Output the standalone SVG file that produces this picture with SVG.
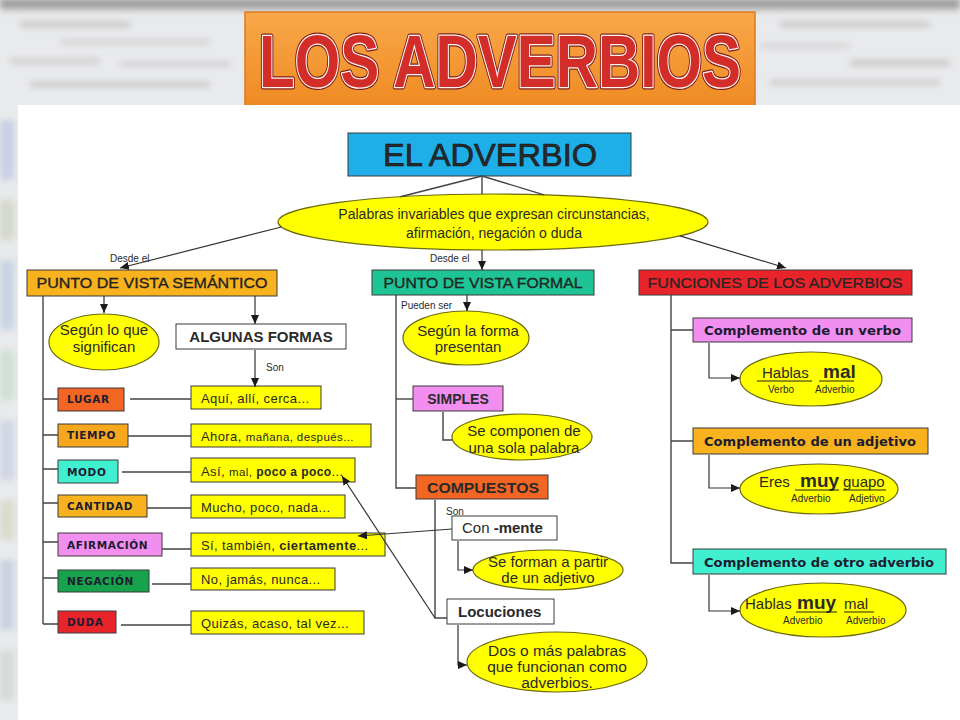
<svg xmlns="http://www.w3.org/2000/svg" width="960" height="720" viewBox="0 0 960 720">
<defs>
<linearGradient id="topband" x1="0" y1="0" x2="0" y2="1">
<stop offset="0" stop-color="#6e6e6e"/><stop offset="1" stop-color="#dcdcdc"/>
</linearGradient>
<linearGradient id="orange" x1="0" y1="0" x2="0" y2="1">
<stop offset="0" stop-color="#f8a84a"/><stop offset="1" stop-color="#ef8a22"/>
</linearGradient>
<filter id="blur" x="-10%" y="-10%" width="120%" height="120%"><feGaussianBlur stdDeviation="3"/></filter>
<marker id="ah" markerUnits="userSpaceOnUse" markerWidth="9" markerHeight="8" refX="9" refY="4" orient="auto">
<path d="M0,0 L9,4 L0,8 z" fill="#1a1a1a"/>
</marker>
<style>
.bx{stroke:#3a3a3a;stroke-width:1}
.el{fill:#ffff00;stroke:#6a6a10;stroke-width:1.2}
.ln{fill:none;stroke:#444;stroke-width:1.4}
.ar{fill:none;stroke:#333;stroke-width:1.2;marker-end:url(#ah)}
.t{font-family:"Liberation Sans",Arial,sans-serif;fill:#2a2a2a}
.v{font-family:"DejaVu Sans",Verdana,sans-serif;font-weight:bold;fill:#1c1c30}
.b{font-weight:bold}
.c{text-anchor:middle}
.sm{font-size:10px}
.e15{font-size:15px}
.ex{font-size:13px;letter-spacing:0.4px}
.tag{font-size:10.5px;letter-spacing:0.6px}
.ttl{font-family:"Liberation Sans",Arial,sans-serif;font-weight:bold;font-size:74px;text-anchor:middle;stroke-linejoin:round}
</style>
</defs>

<!-- blurred backdrop -->
<rect width="960" height="720" fill="#e9eaec"/>
<g filter="url(#blur)">
<rect x="0" y="0" width="960" height="12" fill="url(#topband)"/>
<rect x="20" y="22" width="110" height="5" fill="#c2c2c2"/>
<rect x="60" y="40" width="150" height="4" fill="#cdcdcd"/>
<rect x="10" y="58" width="90" height="6" fill="#d0d0d0"/>
<rect x="120" y="62" width="110" height="4" fill="#c8c8c8"/>
<rect x="30" y="82" width="180" height="5" fill="#c6c6c6"/>
<rect x="780" y="22" width="150" height="5" fill="#c4c4c4"/>
<rect x="760" y="44" width="90" height="4" fill="#cfcfcf"/>
<rect x="850" y="60" width="100" height="6" fill="#c9c9c9"/>
<rect x="770" y="80" width="170" height="5" fill="#cacaca"/>
<rect x="0" y="120" width="14" height="60" fill="#c9d0e4"/>
<rect x="0" y="200" width="14" height="40" fill="#d4d8cc"/>
<rect x="0" y="260" width="14" height="70" fill="#c8d4e2"/>
<rect x="0" y="350" width="14" height="50" fill="#cfe0d4"/>
<rect x="0" y="420" width="14" height="60" fill="#d0d6e4"/>
<rect x="0" y="500" width="14" height="40" fill="#d8dccc"/>
<rect x="0" y="560" width="14" height="70" fill="#c9d2e0"/>
<rect x="0" y="650" width="14" height="50" fill="#d6dad6"/>
</g>

<!-- title -->
<g id="title">
<rect x="245" y="12" width="510" height="96" fill="url(#orange)" stroke="#d97a1e" stroke-width="1.5"/>
<text class="ttl" x="500" y="87" textLength="482" lengthAdjust="spacingAndGlyphs" fill="#d8302c" stroke="#7a1a16" stroke-width="5">LOS ADVERBIOS</text>
<text class="ttl" x="500" y="87" textLength="482" lengthAdjust="spacingAndGlyphs" fill="#d8302c" stroke="#fff6f2" stroke-width="2.6">LOS ADVERBIOS</text>
<text class="ttl" x="500" y="87" textLength="482" lengthAdjust="spacingAndGlyphs" fill="#d22d28">LOS ADVERBIOS</text>
</g>

<!-- white panel -->
<rect x="18" y="105" width="942" height="615" fill="#ffffff"/>

<!-- nodes -->
<g id="el-adverbio">
<rect class="bx" x="348" y="133" width="283" height="43" fill="#1eaee8"/>
<text class="t c" x="490" y="166" font-size="31" textLength="214" lengthAdjust="spacingAndGlyphs" stroke="#111" stroke-width="0.6" fill="#111">EL ADVERBIO</text>
</g>
<g id="definicion">
<ellipse class="el" cx="493" cy="222" rx="215" ry="28"/>
<text class="t c" x="494" y="219" font-size="14">Palabras invariables que expresan circunstancias,</text>
<text class="t c" x="494" y="238" font-size="14">afirmación, negación o duda</text>
</g>

<g id="semantico">
<rect class="bx" x="27" y="270" width="250" height="26" fill="#f7b21e"/>
<text class="t c" x="152" y="288" font-size="14" textLength="231" lengthAdjust="spacingAndGlyphs" stroke="#111" stroke-width="0.3" fill="#111">PUNTO DE VISTA SEMÁNTICO</text>
</g>
<g id="formal">
<rect class="bx" x="372" y="270" width="222" height="25" fill="#1ec495"/>
<text class="t c" x="483" y="288" font-size="14" textLength="199" lengthAdjust="spacingAndGlyphs" stroke="#111" stroke-width="0.3" fill="#111">PUNTO DE VISTA FORMAL</text>
</g>
<g id="funciones">
<rect class="bx" x="639" y="270" width="273" height="25" fill="#e8242a"/>
<text class="t c" x="775" y="288" font-size="14" textLength="255" lengthAdjust="spacingAndGlyphs" stroke="#111" stroke-width="0.2" fill="#111">FUNCIONES DE LOS ADVERBIOS</text>
</g>

<g id="segun-significan">
<ellipse class="el" cx="104" cy="342" rx="55" ry="28"/>
<text class="t c e15" x="104" y="335">Según lo que</text>
<text class="t c e15" x="104" y="352">significan</text>
</g>
<g id="algunas-formas">
<rect class="bx" x="176" y="324" width="170" height="25" fill="#ffffff"/>
<text class="t c b" x="261" y="342" font-size="15" fill="#111">ALGUNAS FORMAS</text>
</g>

<g id="lugar"><rect class="bx" x="58" y="388" width="66" height="23" fill="#f26522"/><text class="v tag" x="67" y="403">LUGAR</text></g>
<g id="tiempo"><rect class="bx" x="58" y="424" width="70" height="23" fill="#f7a71b"/><text class="v tag" x="67" y="439">TIEMPO</text></g>
<g id="modo"><rect class="bx" x="58" y="460" width="60" height="23" fill="#40efd0"/><text class="v tag" x="67" y="476">MODO</text></g>
<g id="cantidad"><rect class="bx" x="58" y="495" width="89" height="22" fill="#f7b21e"/><text class="v tag" x="67" y="510">CANTIDAD</text></g>
<g id="afirmacion"><rect class="bx" x="58" y="533" width="104" height="23" fill="#f28ef0"/><text class="v tag" x="67" y="549">AFIRMACIÓN</text></g>
<g id="negacion"><rect class="bx" x="58" y="570" width="91" height="22" fill="#17a24c"/><text class="v tag" x="67" y="585">NEGACIÓN</text></g>
<g id="duda"><rect class="bx" x="58" y="611" width="58" height="22" fill="#e8242a"/><text class="v tag" x="67" y="626">DUDA</text></g>

<g id="ej-lugar"><rect class="bx" x="191" y="386" width="130" height="23" fill="#ffff00"/><text class="t ex" x="201" y="403">Aquí, allí, cerca...</text></g>
<g id="ej-tiempo"><rect class="bx" x="191" y="424" width="180" height="23" fill="#ffff00"/><text class="t ex" x="201" y="441">Ahora, <tspan font-size="11.5">mañana, después...</tspan></text></g>
<g id="ej-modo"><rect class="bx" x="191" y="458" width="164" height="24" fill="#ffff00"/><text class="t ex" x="201" y="476">Así, <tspan font-size="11.5">mal,</tspan> <tspan class="b" font-size="12">poco a poco</tspan>...</text></g>
<g id="ej-cantidad"><rect class="bx" x="191" y="495" width="154" height="23" fill="#ffff00"/><text class="t ex" x="201" y="512">Mucho, poco, nada...</text></g>
<g id="ej-afirmacion"><rect class="bx" x="191" y="533" width="194" height="23" fill="#ffff00"/><text class="t ex" x="201" y="550">Sí, también, <tspan class="b">ciertamente</tspan>...</text></g>
<g id="ej-negacion"><rect class="bx" x="191" y="568" width="144" height="22" fill="#ffff00"/><text class="t ex" x="201" y="584">No, jamás, nunca...</text></g>
<g id="ej-duda"><rect class="bx" x="191" y="611" width="173" height="23" fill="#ffff00"/><text class="t ex" x="201" y="628">Quizás, acaso, tal vez...</text></g>

<g id="segun-forma">
<ellipse class="el" cx="466" cy="338" rx="63" ry="27"/>
<text class="t c e15" x="468" y="336">Según la forma</text>
<text class="t c e15" x="468" y="352">presentan</text>
</g>
<g id="simples">
<rect class="bx" x="413" y="386" width="90" height="25" fill="#f28ef0"/>
<text class="t c b" x="458" y="404" font-size="14" fill="#111">SIMPLES</text>
</g>
<g id="sola-palabra">
<ellipse class="el" cx="522" cy="437" rx="70" ry="23"/>
<text class="t c e15" x="524" y="436">Se componen de</text>
<text class="t c e15" x="524" y="453">una sola palabra</text>
</g>
<g id="compuestos">
<rect class="bx" x="416" y="475" width="132" height="24" fill="#f26522"/>
<text class="t c b" x="483" y="493" font-size="15" textLength="112" lengthAdjust="spacingAndGlyphs" fill="#111">COMPUESTOS</text>
</g>
<g id="con-mente">
<rect class="bx" x="452" y="516" width="105" height="24" fill="#ffffff"/>
<text class="t" x="462" y="533" font-size="15" fill="#111">Con <tspan class="b">-mente</tspan></text>
</g>
<g id="adjetivo">
<ellipse class="el" cx="548" cy="570" rx="75" ry="20"/>
<text class="t c e15" x="548" y="567">Se forman a partir</text>
<text class="t c e15" x="548" y="583">de un adjetivo</text>
</g>
<g id="locuciones">
<rect class="bx" x="447" y="599" width="107" height="25" fill="#ffffff"/>
<text class="t b" x="458" y="617" font-size="15" fill="#111">Locuciones</text>
</g>
<g id="dos-palabras">
<ellipse class="el" cx="557" cy="662" rx="90" ry="30"/>
<text class="t c" x="557" y="656" font-size="15.5">Dos o más palabras</text>
<text class="t c" x="557" y="672" font-size="15.5">que funcionan como</text>
<text class="t c" x="557" y="688" font-size="15.5">adverbios.</text>
</g>

<g id="comp-verbo">
<rect class="bx" x="693" y="318" width="219" height="24" fill="#f28ef0"/>
<text class="v" x="704" y="335" font-size="13" textLength="197" lengthAdjust="spacingAndGlyphs">Complemento de un verbo</text>
</g>
<g id="ej-verbo">
<ellipse class="el" cx="811" cy="379" rx="71" ry="27"/>
<text class="t" x="762" y="378" font-size="15">Hablas</text>
<text class="t b" x="823" y="378" font-size="19" fill="#111">mal</text>
<path d="M757,381 H812 M819,381 H854" stroke="#222" stroke-width="1.2"/>
<text class="t sm" x="768" y="393" fill="#111">Verbo</text>
<text class="t sm" x="815" y="393" fill="#111">Adverbio</text>
</g>
<g id="comp-adjetivo">
<rect class="bx" x="693" y="428" width="235" height="26" fill="#f7b21e"/>
<text class="v" x="704" y="446" font-size="13" textLength="212" lengthAdjust="spacingAndGlyphs">Complemento de un adjetivo</text>
</g>
<g id="ej-adjetivo">
<ellipse class="el" cx="819" cy="489" rx="79" ry="25"/>
<text class="t" x="759" y="487" font-size="15">Eres</text>
<text class="t b" x="800" y="487" font-size="19" fill="#111">muy</text>
<text class="t" x="843" y="487" font-size="15">guapo</text>
<path d="M795,490 H839 M843,490 H886" stroke="#222" stroke-width="1.2"/>
<text class="t sm" x="791" y="502" fill="#111">Adverbio</text>
<text class="t sm" x="849" y="502" fill="#111">Adjetivo</text>
</g>
<g id="comp-adverbio">
<rect class="bx" x="693" y="549" width="253" height="25" fill="#40efd0"/>
<text class="v" x="704" y="567" font-size="13" textLength="230" lengthAdjust="spacingAndGlyphs">Complemento de otro adverbio</text>
</g>
<g id="ej-adverbio">
<ellipse class="el" cx="823" cy="610" rx="83" ry="27"/>
<text class="t" x="745" y="609" font-size="15">Hablas</text>
<text class="t b" x="797" y="609" font-size="19" fill="#111">muy</text>
<text class="t" x="844" y="609" font-size="15">mal</text>
<path d="M796,612 H837 M844,612 H874" stroke="#222" stroke-width="1.2"/>
<text class="t sm" x="783" y="624" fill="#111">Adverbio</text>
<text class="t sm" x="846" y="624" fill="#111">Adverbio</text>
</g>

<!-- connectors -->
<g id="connectors">
<path class="ln" d="M482,176 V194"/>
<path class="ar" d="M482,250 V270"/>
<path class="ln" d="M482,176 L400.4,196.7"/>
<path class="ar" d="M281.4,227 L120,268"/>
<path class="ln" d="M482,176 L544.1,194.8"/>
<path class="ar" d="M679.8,235.9 L786,268"/>

<path class="ln" d="M43,296 V624"/>
<path class="ln" d="M43,399 H58 M43,435 H58 M43,469 H58 M43,503 H58 M43,542 H58 M43,578 H58 M43,624 H58"/>
<path class="ar" d="M104,296 V313"/>
<path class="ar" d="M255,296 V324"/>
<path class="ar" d="M255,350 V387"/>
<path class="ln" d="M130,399 H191 M128,436 H191 M122,472 H191 M147,508 H191 M162,549 H191 M152,584 H191 M121,625 H191"/>

<path class="ln" d="M396,295 V488 H416"/>
<path class="ln" d="M396,399 H413"/>
<path class="ar" d="M467,295 V311"/>
<path class="ln" d="M443,412 V440 H452"/>
<path class="ln" d="M435,500 V618 H447"/>
<path class="ar" d="M458,541 V570 H473"/>
<path class="ar" d="M458,625 V665 H467"/>
<path class="ar" d="M452,529 L358,536"/>
<path class="ar" d="M435,618 L342,476"/>

<path class="ln" d="M671,295 V563 H693"/>
<path class="ln" d="M671,330 H693 M671,441 H693"/>
<path class="ar" d="M709,343 V378 H740"/>
<path class="ar" d="M709,455 V488 H740"/>
<path class="ar" d="M709,575 V611 H740"/>

<text class="t sm" x="110" y="262" fill="#222">Desde el</text>
<text class="t sm" x="430" y="262" fill="#222">Desde el</text>
<text class="t sm" x="266" y="371" fill="#222">Son</text>
<text class="t sm" x="401" y="309" fill="#222">Pueden ser</text>
<text class="t sm" x="446" y="515" fill="#222">Son</text>
</g>
</svg>
